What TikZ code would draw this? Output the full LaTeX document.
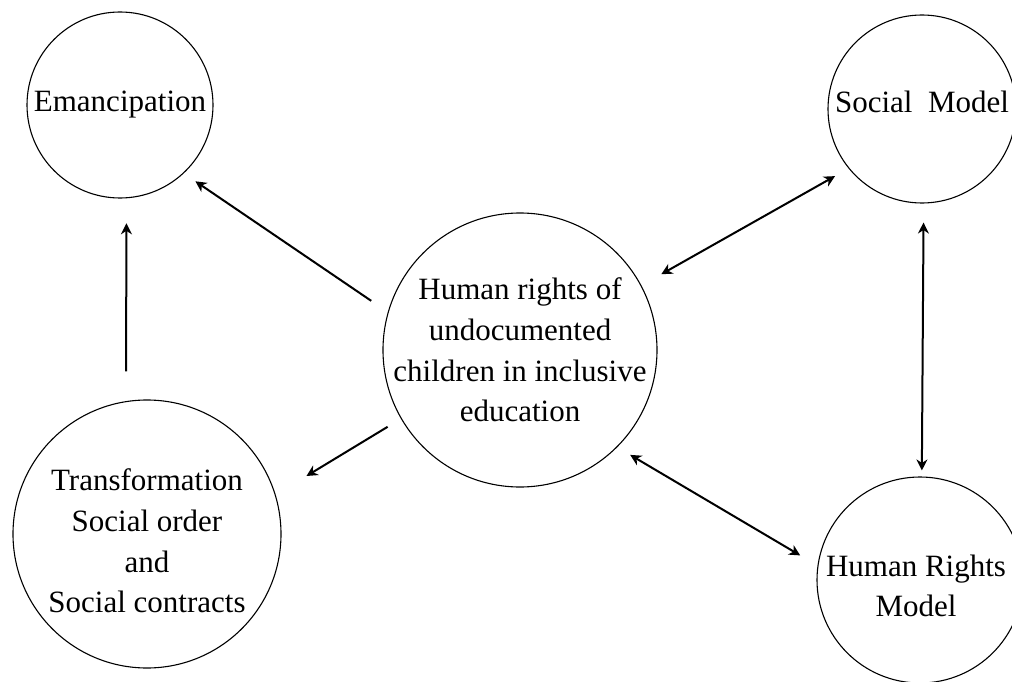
\documentclass[tikz,border=0pt]{standalone}
\usepackage{fontspec}
\setmainfont{Liberation Serif}
\usetikzlibrary{arrows.meta}
\begin{document}
\begin{tikzpicture}[x=1pt,y=-1pt,
  bubble/.style={circle, draw, line width=1.1pt, inner sep=0pt, minimum size=#1},
  lbl/.style={font=\fontsize{31}{40.7}\selectfont, align=center, inner sep=0pt},
  conn/.style={line width=2pt, -{Stealth[length=11pt,width=11pt,inset=3.5pt]}},
  biconn/.style={line width=2pt, {Stealth[length=11pt,width=11pt,inset=3.5pt]}-{Stealth[length=11pt,width=11pt,inset=3.5pt]}}]
\useasboundingbox (0,0) rectangle (1012,682);
\fill[white] (0,0) rectangle (1012,682);

\node[bubble=186pt, label={[lbl]center:Emancipation}] (eman) at (120,105) {};
\node[bubble=188pt, label={[lbl,yshift=7pt]center:Social\ \ Model}] (soc) at (922,109) {};
\node[bubble=274pt, label={[lbl]center:{Human rights of\\undocumented\\children in inclusive\\education}}] (hr) at (520,350) {};
\node[bubble=268pt, label={[lbl,yshift=-7pt]center:{Transformation\\Social order\\and\\Social contracts}}] (trans) at (147,534) {};
\node[bubble=206pt, label={[lbl,yshift=-6pt,xshift=-4pt]center:{Human Rights\\Model}}] (hrm) at (920,580) {};

\draw[conn, shorten <=20pt, shorten >=14pt] (hr.164.9) -- (eman.-47.3);
\draw[conn, shorten <=29.8pt, shorten >=25pt] (trans.99.45) -- (eman.-86.92);
\draw[conn, shorten <=15.5pt, shorten >=36pt] (hr.210.8) -- (trans.17.8);
\draw[biconn, shorten <=22.8pt, shorten >=15.5pt] (hr.28.8) -- (soc.219.1);
\draw[biconn, shorten <=19pt, shorten >=6pt] (soc.-89.4) -- (hrm.89.0);
\draw[biconn, shorten <=15pt, shorten >=20pt] (hr.-45.8) -- (hrm.172.1);
\end{tikzpicture}
\end{document}
